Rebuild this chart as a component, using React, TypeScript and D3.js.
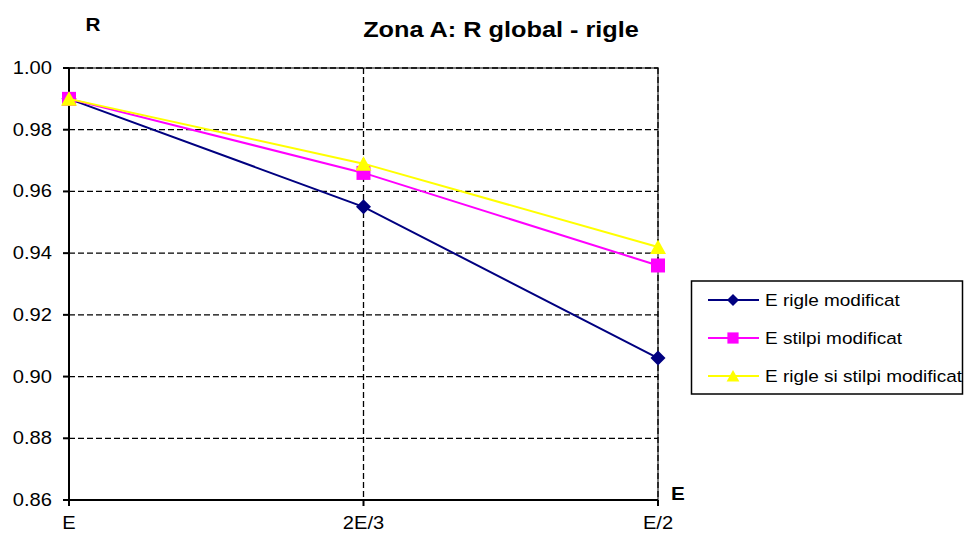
import React from "react";
import * as d3 from "d3";

// Chart data
const categories = ["E", "2E/3", "E/2"];
const rigleModificat = [0.99, 0.955, 0.906];
const stilpiModificat = [0.99, 0.966, 0.936];
const rigleSiStilpiModificat = [0.99, 0.969, 0.942];
const yTicks = [0.86, 0.88, 0.9, 0.92, 0.94, 0.96, 0.98, 1.0];
const seriesNames = ["E rigle modificat", "E stilpi modificat", "E rigle si stilpi modificat"];

const W = 964;
const H = 533;
const FONT = "'Liberation Sans', Arial, Helvetica, sans-serif";
const SX = 1.15; // horizontal text stretch

type Marker = "diamond" | "square" | "triangle";

const series = [
  { name: seriesNames[0], values: rigleModificat, color: "#000080", marker: "diamond" as Marker },
  { name: seriesNames[1], values: stilpiModificat, color: "#FF00FF", marker: "square" as Marker },
  { name: seriesNames[2], values: rigleSiStilpiModificat, color: "#FFFF00", marker: "triangle" as Marker },
];

function markerPath(m: Marker): string {
  if (m === "diamond") return "M0,-7.5L7.5,0L0,7.5L-7.5,0Z";
  if (m === "square") return "M-7,-7L7,-7L7,7L-7,7Z";
  return "M0,-7.5L8,7L-8,7Z";
}

function T(props: {
  x: number;
  y: number;
  size: number;
  bold?: boolean;
  anchor?: "start" | "middle" | "end";
  children: React.ReactNode;
}) {
  return (
    <text
      transform={`translate(${props.x},${props.y}) scale(${SX},1)`}
      fontFamily={FONT}
      fontSize={props.size}
      fontWeight={props.bold ? "bold" : "normal"}
      textAnchor={props.anchor || "start"}
      fill="#000"
    >
      {props.children}
    </text>
  );
}

export default function App() {
  const left = 69;
  const right = 658;
  const top = 68;
  const bottom = 500;

  const x = d3.scalePoint<string>().domain(categories).range([left, right]).padding(0);
  const y = d3.scaleLinear().domain([0.86, 1.0]).range([bottom, top]);

  const line = d3
    .line<number>()
    .x((_, i) => x(categories[i]) as number)
    .y((d) => y(d));

  const legendRows = [300, 338, 376];

  return (
    <svg
      width={W}
      height={H}
      style={{ position: "absolute", left: 0, top: 0, background: "#fff" }}
    >
      <rect x={0} y={0} width={W} height={H} fill="#fff" />

      {/* plot area border */}
      <rect x={left} y={top} width={right - left} height={bottom - top} fill="none" stroke="#808080" strokeWidth={2} />

      {/* horizontal grid */}
      {yTicks.slice(1).map((t) => (
        <line
          key={"hg" + t}
          x1={left}
          x2={right}
          y1={y(t)}
          y2={y(t)}
          stroke="#000"
          strokeWidth={1.3}
          strokeDasharray="6,3"
        />
      ))}
      {/* vertical grid */}
      {categories.slice(1).map((c) => (
        <line
          key={"vg" + c}
          x1={x(c)}
          x2={x(c)}
          y1={top}
          y2={bottom}
          stroke="#000"
          strokeWidth={1.3}
          strokeDasharray="6,3"
        />
      ))}

      {/* axes */}
      <line x1={left} x2={left} y1={top} y2={bottom + 1} stroke="#000" strokeWidth={2} />
      <line x1={left} x2={right} y1={bottom} y2={bottom} stroke="#000" strokeWidth={2} />
      {yTicks.map((t) => (
        <g key={"yt" + t}>
          <line x1={left - 6} x2={left} y1={y(t)} y2={y(t)} stroke="#000" strokeWidth={2} />
          <T x={52} y={y(t) + 6} size={17.5} anchor="end">
            {t.toFixed(2)}
          </T>
        </g>
      ))}
      {categories.map((c) => (
        <g key={"xt" + c}>
          <line x1={x(c)} x2={x(c)} y1={bottom} y2={bottom + 6} stroke="#000" strokeWidth={2} />
          <T x={x(c) as number} y={529} size={17.5} anchor="middle">
            {c}
          </T>
        </g>
      ))}

      {/* series */}
      {series.map((s) => (
        <g key={s.name}>
          <path d={line(s.values) || ""} fill="none" stroke={s.color} strokeWidth={2} />
          {s.values.map((v, i) => (
            <path
              key={i}
              d={markerPath(s.marker)}
              transform={`translate(${x(categories[i])},${y(v)})`}
              fill={s.color}
            />
          ))}
        </g>
      ))}

      {/* titles */}
      <T x={501} y={37} size={22} bold anchor="middle">
        Zona A: R global - rigle
      </T>
      <T x={93} y={31} size={18} bold anchor="middle">
        R
      </T>
      <T x={678} y={500} size={18} bold anchor="middle">
        E
      </T>

      {/* legend */}
      <rect x={691.5} y={281} width={271} height={113} fill="#fff" stroke="#000" strokeWidth={1.5} />
      {series.map((s, i) => (
        <g key={"lg" + s.name}>
          <line x1={708} x2={759} y1={legendRows[i]} y2={legendRows[i]} stroke={s.color} strokeWidth={2} />
          <path
            d={markerPath(s.marker)}
            transform={`translate(733,${legendRows[i]}) scale(0.8)`}
            fill={s.color}
          />
          <T x={765} y={legendRows[i] + 6} size={16.5}>
            {s.name}
          </T>
        </g>
      ))}
    </svg>
  );
}
